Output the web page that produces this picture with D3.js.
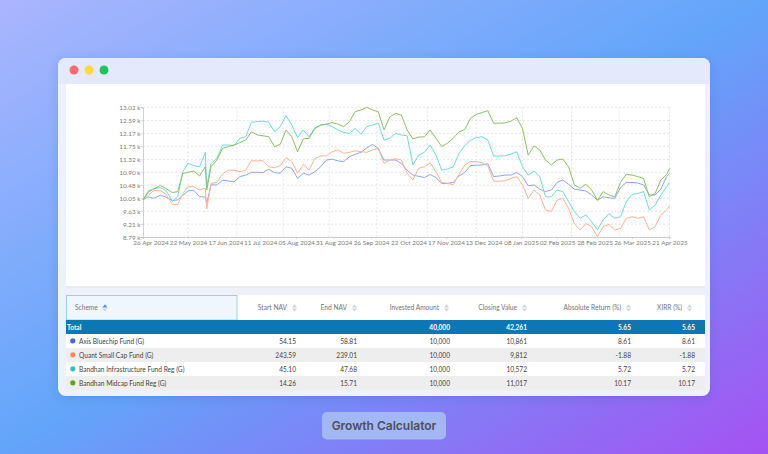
<!DOCTYPE html>
<html><head><meta charset="utf-8">
<script src="https://cdnjs.cloudflare.com/ajax/libs/d3/7.8.5/d3.min.js"></script>
<style>html,body{margin:0;padding:0;overflow:hidden;background:#fff}svg{display:block}text{font-family:Lato,sans-serif}</style>
</head><body><svg id="c" width="768" height="454"></svg>
<script>
const dates = ["2024-04-26","2024-04-29","2024-05-02","2024-05-06","2024-05-09","2024-05-13","2024-05-16","2024-05-19",
"2024-05-22","2024-05-26","2024-05-30","2024-06-03","2024-06-04","2024-06-07","2024-06-11","2024-06-15","2024-06-19","2024-06-23","2024-06-27",
"2024-07-01","2024-07-05","2024-07-09","2024-07-13","2024-07-17","2024-07-21","2024-07-25","2024-07-29","2024-08-02","2024-08-06","2024-08-10","2024-08-14","2024-08-18","2024-08-22","2024-08-26","2024-08-30",
"2024-09-03","2024-09-07","2024-09-11","2024-09-15","2024-09-19","2024-09-23","2024-09-27","2024-10-01","2024-10-05","2024-10-09","2024-10-13","2024-10-17","2024-10-21","2024-10-25","2024-10-29",
"2024-11-02","2024-11-06","2024-11-10","2024-11-14","2024-11-18","2024-11-22","2024-11-26","2024-11-30","2024-12-04","2024-12-08","2024-12-12","2024-12-16","2024-12-20","2024-12-24","2024-12-28",
"2025-01-01","2025-01-05","2025-01-09","2025-01-13","2025-01-17","2025-01-21","2025-01-25","2025-01-29","2025-02-02","2025-02-06","2025-02-10","2025-02-14","2025-02-18","2025-02-22","2025-02-26",
"2025-03-02","2025-03-06","2025-03-10","2025-03-14","2025-03-18","2025-03-22","2025-03-26","2025-03-30","2025-04-03","2025-04-07","2025-04-11","2025-04-15","2025-04-19","2025-04-21"];

const axisBluechip = [10.00,10.10,10.05,10.15,10.10,9.98,10.00,10.15,
10.29,10.32,10.10,10.10,9.89,10.49,10.49,10.64,10.62,10.59,10.76,10.81,10.90,10.90,10.89,11.00,10.89,10.87,11.08,11.03,10.70,10.87,10.81,10.92,11.08,11.30,11.33,11.27,11.25,11.41,11.49,11.55,11.70,11.81,11.68,11.30,11.30,11.30,
11.19,10.97,10.81,10.77,10.73,10.83,10.73,10.53,10.54,10.57,10.78,10.90,11.12,11.13,11.14,11.18,10.76,10.78,10.81,10.81,10.90,10.76,10.46,10.49,10.35,10.27,10.32,10.57,10.65,10.51,10.35,10.32,10.29,10.16,9.99,10.10,10.07,10.05,10.40,10.57,10.57,10.55,10.49,10.16,10.16,10.35,10.76,10.86];

const quantSmallCap = [10.00,10.15,10.30,10.30,10.20,9.85,9.85,10.20,
10.43,10.43,10.32,10.38,9.70,10.54,10.57,10.85,10.97,10.97,10.92,10.97,11.28,11.27,11.28,11.08,11.05,11.12,11.38,11.25,10.87,11.16,10.97,11.35,11.43,11.44,11.57,11.63,11.52,11.55,11.60,11.57,11.55,11.63,11.68,11.19,11.30,11.35,
11.30,10.87,10.65,11.03,11.08,11.21,10.92,10.57,10.54,10.49,10.83,11.14,11.25,11.25,11.21,11.10,10.61,10.61,10.62,10.70,10.76,10.49,10.05,10.32,10.16,9.67,9.62,9.99,10.05,9.72,9.23,9.02,9.23,9.13,8.80,9.13,9.20,9.02,9.07,9.40,9.45,9.40,9.45,9.02,9.13,9.51,9.67,9.81];

const bandhanInfra = [10.00,10.29,10.36,10.40,10.32,9.96,10.10,10.92,
11.19,11.12,11.08,11.55,10.43,11.19,11.35,11.79,11.79,11.77,12.01,12.06,12.53,12.55,12.57,12.53,12.22,12.39,12.75,12.44,12.03,12.28,12.06,12.35,12.44,12.47,12.39,12.28,12.20,12.17,12.33,12.14,12.39,12.44,12.50,11.95,12.01,12.17,
12.12,12.09,11.14,11.46,11.55,11.79,11.46,10.97,11.01,11.08,11.52,11.77,11.95,12.03,12.06,11.95,11.43,11.43,11.44,11.49,11.57,11.08,10.81,10.94,10.76,10.10,10.10,10.32,10.27,9.94,9.62,9.40,9.51,9.29,9.02,9.35,9.55,9.40,9.45,9.94,10.18,10.21,10.27,9.67,9.83,10.16,10.43,10.57];

const bandhanMidcap = [10.00,10.25,10.35,10.47,10.38,10.24,10.27,10.86,
10.90,10.94,10.78,11.08,10.32,11.08,11.30,11.68,11.74,11.79,11.87,11.95,12.22,12.12,12.09,12.06,11.74,11.81,12.28,12.06,11.57,11.99,12.01,12.33,12.44,12.47,12.52,12.47,12.39,12.55,12.88,12.93,13.02,12.93,12.88,12.28,12.71,12.82,
12.77,12.28,11.99,12.05,12.06,12.28,12.01,11.74,11.85,12.01,12.22,12.30,12.66,12.79,12.85,12.91,12.50,12.50,12.51,12.57,12.68,12.33,11.46,11.76,11.63,11.30,11.14,11.30,11.33,11.08,10.49,10.38,10.51,10.32,9.99,10.27,10.16,10.10,10.57,10.83,10.81,10.76,10.70,10.10,10.21,10.65,10.83,11.02];

const seriesNames = ["Axis Bluechip Fund (G)","Quant Small Cap Fund (G)","Bandhan Infrastructure Fund Reg (G)","Bandhan Midcap Fund Reg (G)"];
const seriesValues = [axisBluechip,quantSmallCap,bandhanInfra,bandhanMidcap];
const dotColors = ["#4169e1","#ff8c5a","#2ec4c4","#5aa71e"];
const lineColors = ["#8fa6ee","#ffb394","#71dada","#8fbf69"];

const yTicks = [13.02,12.59,12.17,11.75,11.32,10.90,10.48,10.05,9.63,9.21,8.79];
const xTickDates = ["2024-04-26","2024-05-22","2024-06-17","2024-07-11","2024-08-05","2024-08-31","2024-09-26","2024-10-22","2024-11-17","2024-12-13","2025-01-08","2025-02-02","2025-02-28","2025-03-26","2025-04-21"];
const gridDates = ["2024-04-26","2024-05-22","2024-06-25","2024-07-27","2024-08-28","2024-09-30","2024-11-04","2024-12-08","2025-01-09","2025-02-12","2025-03-17","2025-04-21"];

const columns = ["Scheme","Start NAV","End NAV","Invested Amount","Closing Value","Absolute Return (%)","XIRR (%)"];
const totalRow = ["Total","","","40,000","42,261","5.65","5.65"];
const startNav = ["54.15","243.59","45.10","14.26"];
const endNav = ["58.81","239.01","47.68","15.71"];
const invested = ["10,000","10,000","10,000","10,000"];
const closing = ["10,861","9,812","10,572","11,017"];
const absReturn = ["8.61","-1.88","5.72","10.17"];
const xirr = ["8.61","-1.88","5.72","10.17"];

const colRight = [0,296,357,450,527,631,695];
const headRight = [0,287,347,439,517,621,682];

const svg = d3.select("#c");
const defs = svg.append("defs");
const g = defs.append("linearGradient").attr("id","bg").attr("x1",0).attr("y1",0).attr("x2",1).attr("y2",1);
[[0,"#abb5fe"],[0.5,"#62a5fa"],[1,"#a552f2"]].forEach(s=>g.append("stop").attr("offset",s[0]).attr("stop-color",s[1]));
const f = defs.append("filter").attr("id","sh").attr("x","-10%").attr("y","-10%").attr("width","120%").attr("height","120%");
f.append("feDropShadow").attr("dx",0).attr("dy",2).attr("stdDeviation",5).attr("flood-color","#3a4a90").attr("flood-opacity",0.22);

svg.append("rect").attr("width",768).attr("height",454).attr("fill","url(#bg)");
// window
svg.append("rect").attr("x",58).attr("y",58).attr("width",652).attr("height",338).attr("rx",8).attr("fill","#eef1f9").attr("filter","url(#sh)");
svg.append("path").attr("d","M58 84V66a8 8 0 0 1 8-8H702a8 8 0 0 1 8 8V84Z").attr("fill","#e4eafc");
[[74,"#ff6b6b"],[89,"#ffd93d"],[104,"#1fc45f"]].forEach(d=>svg.append("circle").attr("cx",d[0]).attr("cy",70).attr("r",4.5).attr("fill",d[1]));
// chart card
svg.append("rect").attr("x",66).attr("y",84).attr("width",639).attr("height",202).attr("fill","#fff");
svg.append("rect").attr("x",66).attr("y",286).attr("width",639).attr("height",2).attr("fill","#e8ebf2");

// scales
const parse = d3.utcParse("%Y-%m-%d");
const x = d3.scaleUtc().domain(["2024-04-26","2024-05-22","2025-04-21"].map(parse)).range([143,188,669.5]);
const y = d3.scaleLinear().domain([8.79,13.02]).range([237,107.3]);
const plot = svg.append("g");

plot.append("g").selectAll("line").data(yTicks).join("line")
 .attr("x1",143).attr("x2",669.5).attr("y1",d=>y(d)).attr("y2",d=>y(d))
 .attr("stroke","#dcdcdc").attr("stroke-width",0.7).attr("stroke-dasharray","2 2");
plot.append("g").selectAll("line").data(gridDates.slice(1)).join("line")
 .attr("x1",d=>x(parse(d))).attr("x2",d=>x(parse(d))).attr("y1",107.3).attr("y2",237)
 .attr("stroke","#dcdcdc").attr("stroke-width",0.7).attr("stroke-dasharray","2 2");

// axes
const yAxis = d3.axisLeft(y).tickValues(yTicks).tickSize(2).tickPadding(0.5).tickFormat(d=>d.toFixed(2)+" k");
const ya = plot.append("g").attr("transform","translate(143,0)").call(yAxis);
const xAxis = d3.axisBottom(x).tickValues(xTickDates.map(parse)).tickSize(2).tickPadding(1.5).tickFormat(d3.utcFormat("%d %b %Y"));
const xa = plot.append("g").attr("transform","translate(0,237)").call(xAxis);
[ya,xa].forEach(a=>{
  a.select(".domain").attr("stroke","#c4c4c4").attr("stroke-width",0.8);
  a.selectAll("line").attr("stroke","#c4c4c4").attr("stroke-width",0.7);
  a.selectAll("text").attr("fill","#7c7c7c").attr("font-size",6.4).attr("font-family","Lato");
});
xa.selectAll(".tick").filter((d,i)=>i===0).select("text").attr("dx",7.5);

// lines
const line = d3.line().x((d,i)=>x(parse(dates[i]))).y(d=>y(d));
plot.append("g").selectAll("path").data(seriesValues).join("path")
 .attr("d",line).attr("fill","none").attr("stroke",(d,i)=>lineColors[i]).attr("stroke-width",1).attr("stroke-linejoin","round");

// table
const headY = 295, headH = 25, rowH = 14, totY = 320, fs = 6.6;
svg.append("rect").attr("x",66).attr("y",headY).attr("width",639).attr("height",headH).attr("fill","#fff");
svg.append("rect").attr("x",66.4).attr("y",headY+.4).attr("width",170.6).attr("height",headH-.4).attr("fill","#eff6fe").attr("stroke","#8dc3ea").attr("stroke-width",0.8);
const tri = (cx,cy,up,col)=>svg.append("path")
 .attr("d",`M${cx-2.6} ${cy+(up?1.6:-1.6)}L${cx+2.6} ${cy+(up?1.6:-1.6)}L${cx} ${cy+(up?-1.6:1.6)}Z`).attr("fill",col);
columns.forEach((c,i)=>{
  const t = svg.append("text").attr("y",headY+15).attr("font-size",fs).attr("fill","#6d7480").text(c);
  if(i===0){t.attr("x",75);tri(105,305.8,true,"#5b8def");tri(105,310,false,"#cdd3dc");}
  else{t.attr("x",headRight[i]).attr("text-anchor","end");const ix=headRight[i]+7.5;tri(ix,305.8,true,"#d0d5dd");tri(ix,310,false,"#d0d5dd");}
});
svg.append("rect").attr("x",66).attr("y",totY).attr("width",639).attr("height",14).attr("fill","#0b78b5");
svg.append("text").attr("x",67).attr("y",totY+9.6).attr("font-size",fs).attr("font-weight",700).attr("fill","#fff").text(totalRow[0]);
totalRow.forEach((v,i)=>{ if(i&&v) svg.append("text").attr("x",colRight[i]).attr("y",totY+9.6).attr("text-anchor","end").attr("font-size",fs).attr("font-weight",700).attr("fill","#fff").text(v); });
const cols = [startNav,endNav,invested,closing,absReturn,xirr];
seriesNames.forEach((n,r)=>{
  const ry = 334+r*rowH;
  svg.append("rect").attr("x",66).attr("y",ry).attr("width",639).attr("height",rowH).attr("fill",r%2?"#eeeeee":"#fff");
  svg.append("circle").attr("cx",72.8).attr("cy",ry+6.8).attr("r",2.6).attr("fill",dotColors[r]);
  svg.append("text").attr("x",79).attr("y",ry+9.6).attr("font-size",fs).attr("fill","#444").text(n);
  cols.forEach((col,i)=>svg.append("text").attr("x",colRight[i+1]).attr("y",ry+9.6).attr("text-anchor","end").attr("font-size",fs).attr("fill","#444").text(col[r]));
});

// badge
svg.append("rect").attr("x",322).attr("y",412).attr("width",124).attr("height",27.5).attr("rx",5).attr("fill","#a3b8f2");
svg.append("text").attr("x",384).attr("y",430.3).attr("text-anchor","middle").attr("font-size",12).attr("font-weight",600).attr("fill","#4a4f62").style("font-family","Inter").text("Growth Calculator");
</script></body></html>
